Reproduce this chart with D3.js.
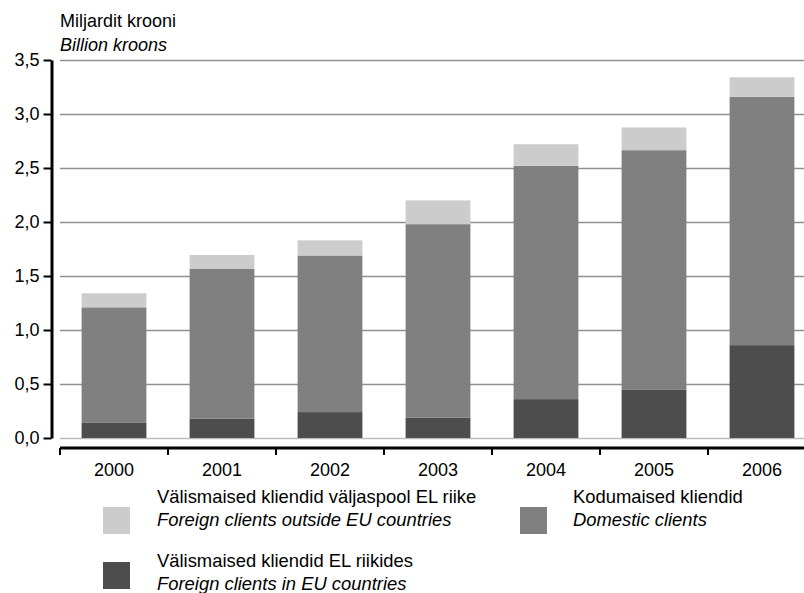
<!DOCTYPE html>
<html>
<head>
<meta charset="utf-8">
<script src="https://cdn.jsdelivr.net/npm/d3@7"></script>
<style>
  html, body { margin: 0; padding: 0; background: #fff; }
  svg { display: block; font-family: "Liberation Sans", Arial, sans-serif; }
</style>
</head>
<body>
<svg id="chart" width="804" height="593"></svg>
<script>
const years = ["2000", "2001", "2002", "2003", "2004", "2005", "2006"];
const foreignEU = [0.14, 0.18, 0.24, 0.19, 0.36, 0.45, 0.86];
const domestic = [1.07, 1.385, 1.45, 1.79, 2.16, 2.215, 2.30];
const foreignNonEU = [0.13, 0.13, 0.14, 0.22, 0.20, 0.21, 0.18];
const yTicks = [0, 0.5, 1.0, 1.5, 2.0, 2.5, 3.0, 3.5];
const seriesKeys = ["eu", "dom", "noneu"];
const seriesColors = { eu: "#4d4d4d", dom: "#808080", noneu: "#cccccc" };
const legendItems = [
  { key: "noneu", et: "Välismaised kliendid väljaspool EL riike", en: "Foreign clients outside EU countries" },
  { key: "dom", et: "Kodumaised kliendid", en: "Domestic clients" },
  { key: "eu", et: "Välismaised kliendid EL riikides", en: "Foreign clients in EU countries" }
];

const FS = 18;
const LFS = 18.4;
const svg = d3.select("#chart");
const fmt = d => d3.format(".1f")(d).replace(".", ",");

const x = d3.scaleBand().domain(years).range([60, 816]).paddingInner(0.4).paddingOuter(0.2);
const y = d3.scaleLinear().domain([0, 3.5]).range([438, 60]);

// gridlines
svg.append("g").selectAll("line").data(yTicks).join("line")
  .attr("x1", 60).attr("x2", 804)
  .attr("y1", d => Math.round(y(d)) + 0.5).attr("y2", d => Math.round(y(d)) + 0.5)
  .attr("stroke", d => d === 0 ? "#bbbbbb" : "#909090").attr("stroke-width", 1.3);

// stacked bars
const table = years.map((yr, i) => ({ year: yr, eu: foreignEU[i], dom: domestic[i], noneu: foreignNonEU[i] }));
const stacked = d3.stack().keys(seriesKeys)(table);
svg.append("g").selectAll("g").data(stacked).join("g")
  .attr("fill", s => seriesColors[s.key])
  .selectAll("rect").data(s => s).join("rect")
  .attr("x", d => x(d.data.year))
  .attr("width", x.bandwidth())
  .attr("y", d => y(d[1]))
  .attr("height", d => y(d[0]) - y(d[1]));

// y axis
const yAxis = svg.append("g").attr("transform", "translate(51.5,0)")
  .call(d3.axisLeft(y).tickValues(yTicks).tickFormat(fmt).tickSize(8).tickSizeOuter(0));
yAxis.select(".domain").attr("stroke", "#000").attr("stroke-width", 3);
yAxis.selectAll(".tick line").attr("stroke", "#000").attr("stroke-width", 2);
yAxis.selectAll(".tick text").attr("font-size", FS).attr("fill", "#000").attr("x", -12)
  .attr("font-family", "Liberation Sans, Arial, sans-serif");

// x axis
const xAxisG = svg.append("g").attr("transform", "translate(0,448)");
xAxisG.append("line").attr("x1", 60).attr("x2", 804).attr("y1", 0).attr("y2", 0)
  .attr("stroke", "#000").attr("stroke-width", 3);
const boundaries = years.map(yr => x(yr) - x.step() * x.paddingInner() / 2);
xAxisG.selectAll("line.tk").data(boundaries).join("line").attr("class", "tk")
  .attr("x1", d => d).attr("x2", d => d).attr("y1", 0).attr("y2", 7)
  .attr("stroke", "#000").attr("stroke-width", 2);
xAxisG.selectAll("text").data(years).join("text")
  .attr("x", d => x(d) + x.bandwidth() / 2).attr("y", 28)
  .attr("text-anchor", "middle").attr("font-size", FS).attr("fill", "#000")
  .text(d => d);

// axis titles
svg.append("text").attr("x", 60).attr("y", 27).attr("font-size", FS).text("Miljardit krooni");
svg.append("text").attr("x", 60).attr("y", 51).attr("font-size", FS).attr("font-style", "italic").text("Billion kroons");

// legend
const legendPos = [
  { sx: 103, sy: 507, tx: 157, ty: 503 },
  { sx: 520, sy: 507, tx: 573, ty: 503 },
  { sx: 103, sy: 562, tx: 157, ty: 567 }
];
const lg = svg.append("g").selectAll("g").data(legendItems).join("g");
lg.append("rect")
  .attr("x", (d, i) => legendPos[i].sx).attr("y", (d, i) => legendPos[i].sy)
  .attr("width", 27).attr("height", 27).attr("fill", d => seriesColors[d.key]);
lg.append("text")
  .attr("x", (d, i) => legendPos[i].tx).attr("y", (d, i) => legendPos[i].ty)
  .attr("font-size", LFS).text(d => d.et);
lg.append("text")
  .attr("x", (d, i) => legendPos[i].tx).attr("y", (d, i) => legendPos[i].ty + 23)
  .attr("font-size", LFS).attr("font-style", "italic").text(d => d.en);
</script>
</body>
</html>
